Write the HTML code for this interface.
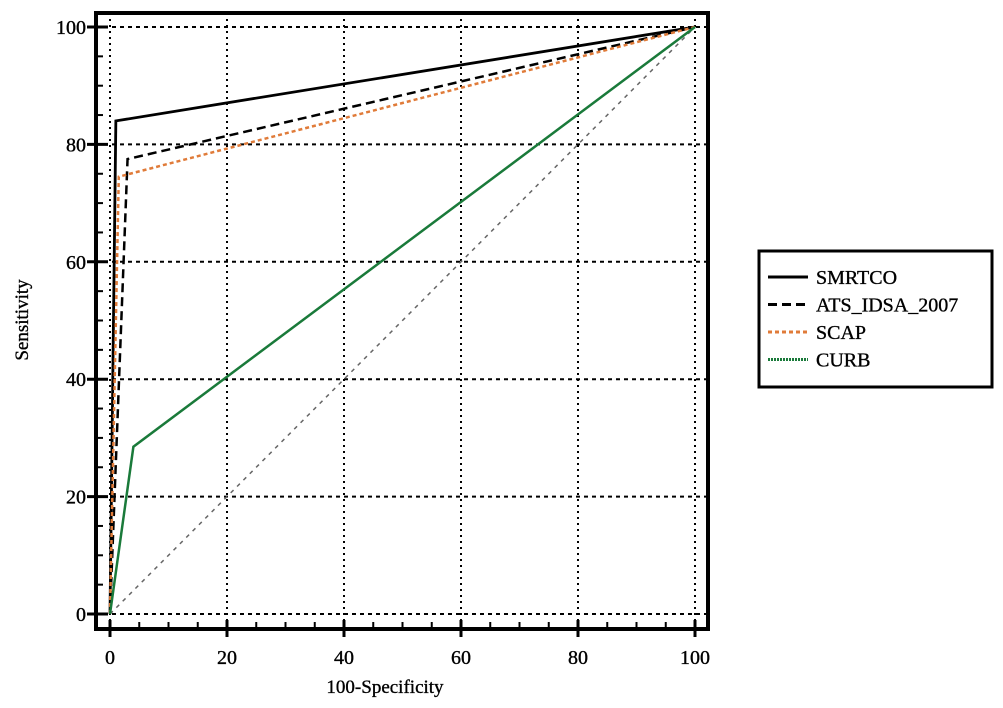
<!DOCTYPE html>
<html><head><meta charset="utf-8"><style>
body{margin:0;background:#fff;}
svg{display:block;font-family:"Liberation Serif",serif;}
text{stroke:#000;stroke-width:0.35px;}
</style></head><body>
<svg width="1003" height="708">
<g id="grid"></g>
<g id="axes"></g>
<g id="series"></g>
<rect x="96" y="13" width="612" height="616" fill="none" stroke="#000" stroke-width="4"/>
<text x="385" y="693" font-size="19" text-anchor="middle">100-Specificity</text>
<text transform="translate(28,320) rotate(-90)" font-size="19" text-anchor="middle">Sensitivity</text>
<g>
<rect x="759" y="251" width="233" height="136" fill="#fff" stroke="#000" stroke-width="3"/>
<g id="legend-items"></g>
</g>
</svg>
<script>
const xTicks=[0,20,40,60,80,100];
const yTicks=[0,20,40,60,80,100];
const seriesNames=["SMRTCO","ATS_IDSA_2007","SCAP","CURB"];
const smrtcoX=[0,1,100], smrtcoY=[0,84,100];
const atsX=[0,3,100], atsY=[0,77.5,100];
const scapX=[0,1.5,100], scapY=[0,74.5,100];
const curbX=[0,4,100], curbY=[0,28.5,100];
const NS="http://www.w3.org/2000/svg";
const sx=v=>110+v*5.85, sy=v=>614-v*5.87;
function mk(tag,attrs,parent){const e=document.createElementNS(NS,tag);for(const k in attrs)e.setAttribute(k,attrs[k]);parent.appendChild(e);return e;}
const grid=document.getElementById('grid'),axes=document.getElementById('axes'),ser=document.getElementById('series');
xTicks.forEach(t=>{
 const l=mk('line',{x1:sx(t),x2:sx(t),y1:13,y2:629,stroke:'#000','stroke-width':2,'stroke-dasharray':'2 4'},grid);
 
 
 const tk=mk('line',{x1:sx(t),x2:sx(t),y1:620,y2:637,stroke:'#000','stroke-width':3},axes);
 
 
 const tx=mk('text',{x:sx(t),y:664,'font-size':20,'text-anchor':'middle'},axes);tx.textContent=t;
 
 
});
for(let v=5;v<100;v+=5){if(v%20){const m=mk('line',{x1:sx(v),x2:sx(v),y1:622,y2:629,stroke:'#000','stroke-width':2},axes);
 
 
 const n=mk('line',{x1:96,x2:103,y1:sy(v),y2:sy(v),stroke:'#000','stroke-width':2},axes);
 
 }}
yTicks.forEach(t=>{
 const l=mk('line',{x1:96,x2:708,y1:sy(t),y2:sy(t),stroke:'#000','stroke-width':2,'stroke-dasharray':'4 4'},grid);
 
 
 const tk=mk('line',{x1:87,x2:108,y1:sy(t),y2:sy(t),stroke:'#000','stroke-width':3},axes);
 
 
 const tx=mk('text',{x:86,y:sy(t)+7,'font-size':20,'text-anchor':'end'},axes);tx.textContent=t;
 
 
});
const diag=mk('line',{x1:sx(0),y1:sy(0),x2:sx(100),y2:sy(100),stroke:'#666','stroke-width':1.5,'stroke-dasharray':'4 5'},ser);


const styles=[
 {X:smrtcoX,Y:smrtcoY,c:'#000',w:2.8,d:''},
 {X:atsX,Y:atsY,c:'#000',w:2.5,d:'9 5'},
 {X:scapX,Y:scapY,c:'#e07b39',w:2.5,d:'4 3'},
 {X:curbX,Y:curbY,c:'#1a7a3a',w:2.5,d:''}];
const names=['smrtco-curve','ats-idsa-2007-curve','scap-curve','curb-curve'];
const leg=document.getElementById('legend-items');
styles.forEach((s,i)=>{
 const pts=s.X.map((x,j)=>sx(x)+','+sy(s.Y[j])).join(' ');
 const p=mk('polyline',{points:pts,fill:'none',stroke:s.c,'stroke-width':s.w,'stroke-dasharray':s.d},ser);
 
 
 const y=277+i*27.5;
 const g=mk('g',{},leg);
 
 
 mk('line',{x1:768,x2:808,y1:y,y2:y,stroke:s.c,'stroke-width':3,'stroke-dasharray':i==3?'2 1':s.d},g);
 const t=mk('text',{x:816,y:y+7,'font-size':20},g);t.textContent=seriesNames[i];
});
</script>
</body></html>
